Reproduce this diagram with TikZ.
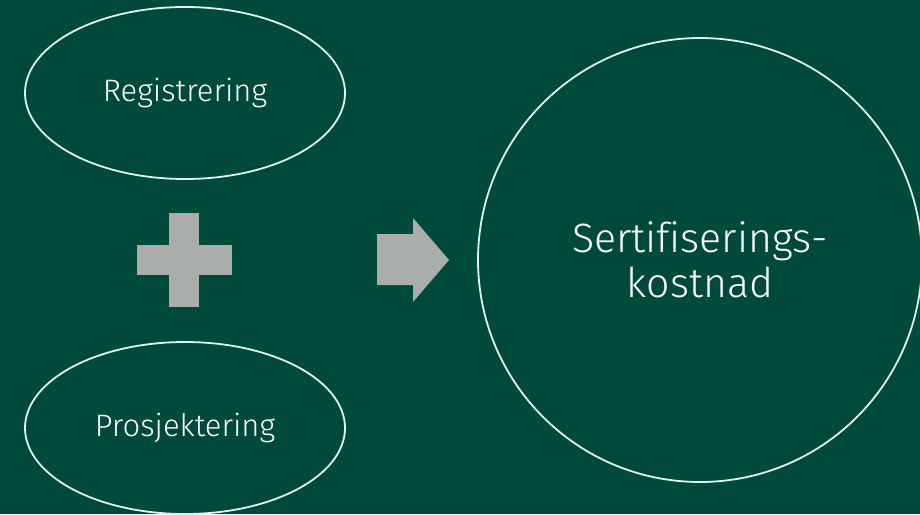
\documentclass[tikz,border=0pt]{standalone}
\usepackage{fontspec}
\setmainfont{Fira Sans}[UprightFont={* Light}, Ligatures=NoCommon]
\usetikzlibrary{shapes.geometric}
\definecolor{bggreen}{HTML}{004A3C}
\definecolor{shapegray}{HTML}{A9AEAB}
\definecolor{linewhite}{HTML}{E4F2EE}
\tikzset{
  stage oval/.style={draw=linewhite, line width=1.8pt, ellipse, minimum width=320pt, minimum height=172pt, inner sep=0pt, text=white, font=\fontsize{31}{36}\selectfont},
  total circle/.style={draw=linewhite, line width=1.8pt, circle, minimum size=444pt, inner sep=0pt, text=white, align=center, font=\fontsize{41}{45}\selectfont}
}
\begin{document}
\begin{tikzpicture}[x=1pt, y=-1pt]
    \fill[bggreen] (0,0) rectangle (920,514);
    \useasboundingbox (0,0) rectangle (920,514);

    \node[stage oval] (reg) at (185, 93) {Registrering};
    \node[stage oval] (pro) at (185, 428) {Prosjektering};
    \node[total circle] (cost) at (700, 260) {Sertifiserings-\\kostnad};

    % plus sign
    \fill[shapegray] (169,213) rectangle (199,307);
    \fill[shapegray] (137,245) rectangle (232,275);

    % arrow
    \fill[shapegray] (377,234) -- (413,234) -- (413,218) -- (449,260) -- (413,302) -- (413,285) -- (377,285) -- cycle;
\end{tikzpicture}
\end{document}
